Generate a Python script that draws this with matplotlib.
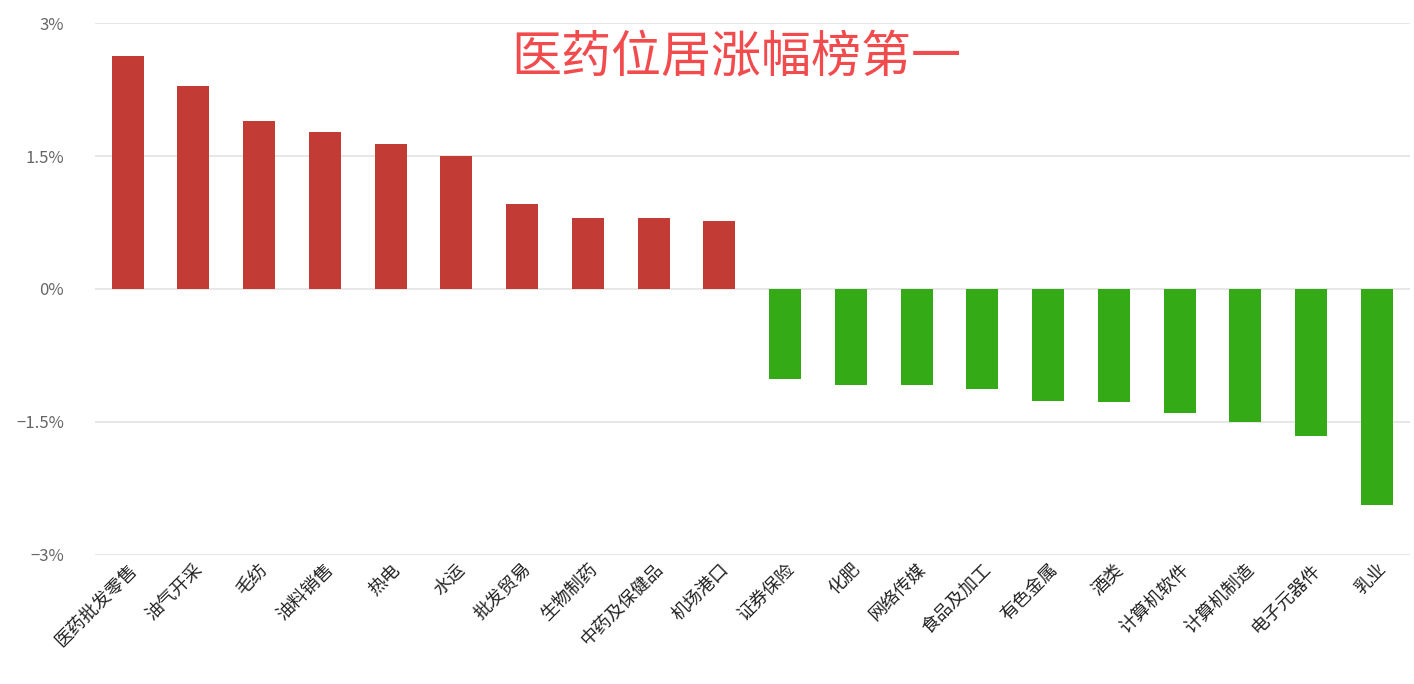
import matplotlib
matplotlib.use("Agg")
import matplotlib.pyplot as plt

plt.rcParams['font.family'] = ['Noto Sans CJK SC', 'DejaVu Sans']
plt.rcParams['axes.unicode_minus'] = False

industries = ["医药批发零售", "油气开采", "毛纺", "油料销售", "热电", "水运", "批发贸易",
              "生物制药", "中药及保健品", "机场港口", "证券保险", "化肥", "网络传媒",
              "食品及加工", "有色金属", "酒类", "计算机软件", "计算机制造", "电子元器件", "乳业"]
changes = [2.63, 2.29, 1.90, 1.77, 1.64, 1.50, 0.96, 0.80, 0.80, 0.77,
           -1.02, -1.08, -1.08, -1.13, -1.26, -1.28, -1.40, -1.50, -1.66, -2.44]
yticks = [3, 1.5, 0, -1.5, -3]
ytick_labels = ["3%", "1.5%", "0%", "\u22121.5%", "\u22123%"]
title = "医药位居涨幅榜第一"

fig = plt.figure(figsize=(14.14, 6.84), dpi=100)
ax = fig.add_axes([0.067, 0.189, 0.93, 0.777])

colors = ["#c23b34" if v >= 0 else "#34ab16" for v in changes]
x = list(range(len(changes)))
ax.bar(x, changes, width=0.49, color=colors, zorder=3)

ax.set_xlim(-0.5, len(changes) - 0.5)
ax.set_ylim(-3, 3)
ax.set_yticks(yticks)
ax.set_yticklabels(ytick_labels, color="#666666", fontsize=12)
ax.yaxis.grid(True, color="#e3e3e3", linewidth=1.2, zorder=0)
for s in ax.spines.values():
    s.set_visible(False)
ax.tick_params(axis="y", length=0, pad=22)
ax.tick_params(axis="x", length=0, pad=4)
ax.set_xticks(x)
ax.set_xticklabels(industries, rotation=45, ha="right", va="top",
                   rotation_mode="anchor", fontsize=13, color="#222222")

ax.text(0.488, 0.935, title, transform=ax.transAxes, ha="center", va="center",
        fontsize=36, color="#f24b4e")

fig.savefig("out.png", dpi=100)
